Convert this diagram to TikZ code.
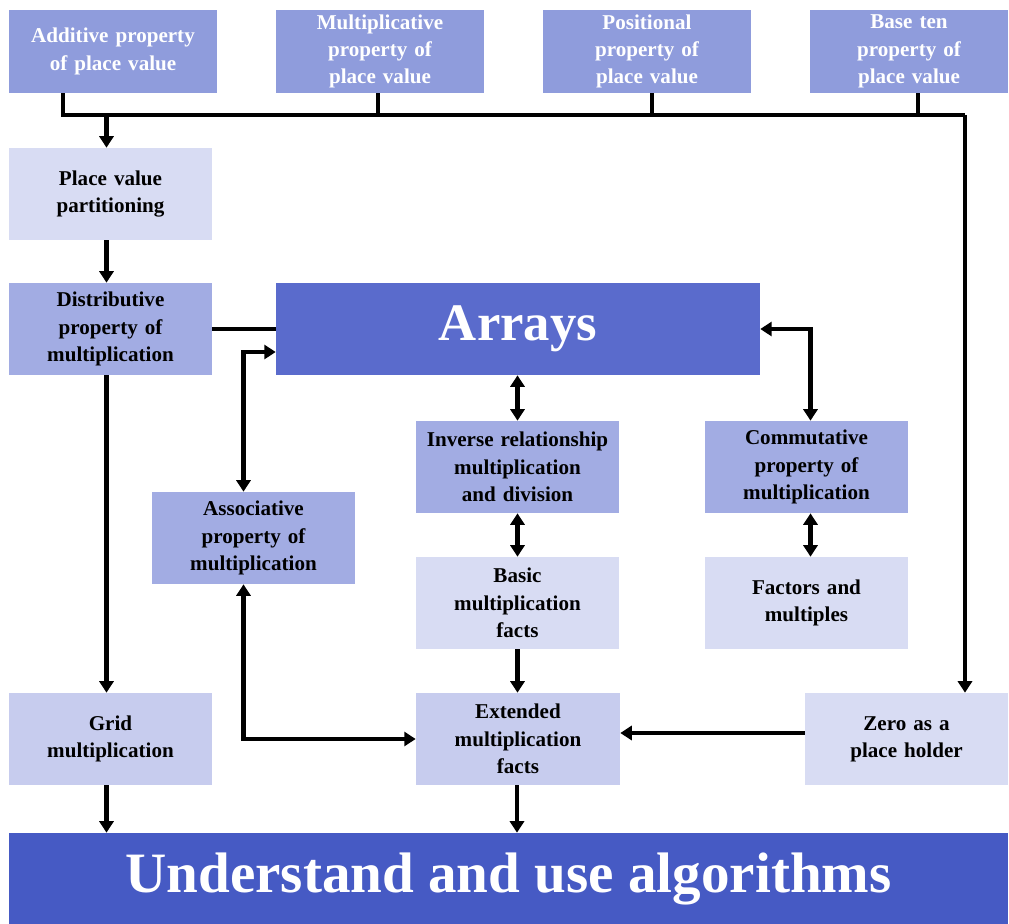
\documentclass[tikz,border=0pt]{standalone}
\usepackage{fontspec}
\setmainfont{Liberation Serif}
\usetikzlibrary{arrows.meta,calc}

\definecolor{topblue}{HTML}{8F9CDC}
\definecolor{midblue}{HTML}{A2ACE3}
\definecolor{paleblue}{HTML}{C7CCEE}
\definecolor{lightblue}{HTML}{D8DCF3}
\definecolor{arrayblue}{HTML}{5A6BCC}
\definecolor{algblue}{HTML}{465AC4}

\begin{document}
\begin{tikzpicture}[x=0.02cm,y=-0.02cm,
    >={Triangle[length=6.5pt,width=8pt]},
    conn/.style={line width=2.3pt,draw=black},
    box/.style={rectangle,inner sep=0pt,align=center,font=\fontsize{12}{15.5}\selectfont\bfseries,
                minimum height=1.84cm,minimum width=4.06cm,text width=3.9cm},
    top box/.style={box,fill=topblue,text=white,minimum height=1.66cm,minimum width=4.16cm},
    mid box/.style={box,fill=midblue},
    pale box/.style={box,fill=paleblue},
    light box/.style={box,fill=lightblue},
    big box/.style={rectangle,inner sep=0pt,align=center,text=white,font=\bfseries}]
  \useasboundingbox (0,0) rectangle (1009,924);

  % top row
  \node[top box] (add) at (113,51.5) {Additive property\\of place value};
  \node[top box] (mul) at (380,51.5) {Multiplicative\\property of\\place value};
  \node[top box] (pos) at (647,51.5) {Positional\\property of\\place value};
  \node[top box,minimum width=3.96cm] (base) at (909,51.5) {Base ten\\property of\\place value};

  % middle
  \node[light box] (pvp) at (110.5,194) {Place value\\partitioning};
  \node[mid box] (dist) at (110.5,329) {Distributive\\property of\\multiplication};
  \node[big box,fill=arrayblue,minimum width=9.68cm,minimum height=1.84cm,
        font=\fontsize{30}{32}\selectfont\bfseries] (arrays) at (518,329) {Arrays};
  \node[mid box] (inv) at (517.5,467) {Inverse relationship\\multiplication\\and division};
  \node[mid box] (comm) at (806.5,467) {Commutative\\property of\\multiplication};
  \node[mid box] (assoc) at (253.5,538) {Associative\\property of\\multiplication};
  \node[light box] (basic) at (517.5,603) {Basic\\multiplication\\facts};
  \node[light box] (fact) at (806.5,603) {Factors and\\multiples};
  \node[pale box] (grid) at (110.5,739) {Grid\\multiplication};
  \node[pale box,minimum width=4.08cm] (ext) at (518,739) {Extended\\multiplication\\facts};
  \node[light box] (zero) at (906.5,739) {Zero as a\\place holder};

  % bottom
  \node[big box,fill=algblue,minimum width=19.98cm,minimum height=1.82cm,
        font=\fontsize{32.5}{35}\selectfont\bfseries] (alg) at (508.5,878.5) {Understand and use algorithms};

  % drop points of the bus
  \coordinate (busL) at (63,115);
  \coordinate (busR) at (965,115);
  \coordinate (mulD) at ($(mul.south)+(-2,0)$);
  \coordinate (posD) at ($(pos.south)+(5,0)$);
  \coordinate (baseD) at ($(base.south)+(9,0)$);
  \coordinate (pvpT) at ($(pvp.north)+(-4,0)$);
  \coordinate (pvpB) at ($(pvp.south)+(-4,0)$);
  \coordinate (distB) at ($(dist.south)+(-4,0)$);
  \coordinate (gridB) at ($(grid.south)+(-4,0)$);
  \coordinate (extB) at ($(ext.south)+(-1,0)$);
  \coordinate (assocT) at ($(assoc.north)+(-10,0)$);
  \coordinate (assocB) at ($(assoc.south)+(-10,0)$);
  \coordinate (arrW) at ($(arrays.west)+(0,23)$);
  \coordinate (commT) at ($(comm.north)+(4,0)$);
  \coordinate (commB) at ($(comm.south)+(4,0)$);
  \coordinate (zeroW) at ($(zero.west)+(0,-6)$);

  % place value bus
  \draw[conn] (add.south -| busL) -- (busL) -- (busR);
  \draw[conn] (mulD) -- (mulD |- busL);
  \draw[conn] (posD) -- (posD |- busL);
  \draw[conn] (baseD) -- (baseD |- busL);
  \draw[conn,->] (busR) -- (zero.north -| busR);
  \draw[conn,->] (pvpT |- busL) -- (pvpT);

  % links
  \draw[conn,->] (pvpB) -- (pvpB |- dist.north);
  \draw[conn] (dist.east) -- (arrays.west);
  \draw[conn,->] (distB) -- (distB |- grid.north);
  \draw[conn,<->] (assocT) |- (arrW);
  \draw[conn,<->] (arrays.south -| inv) -- (inv.north);
  \draw[conn,<->] (inv.south) -- (basic.north);
  \draw[conn,->] (basic.south) -- (basic.south |- ext.north);
  \draw[conn,<->] (arrays.east) -| (commT);
  \draw[conn,<->] (commB) -- (commB |- fact.north);
  \draw[conn,<->] (assocB) |- (ext.west);
  \draw[conn,->] (zeroW) -- (zeroW -| ext.east);
  \draw[conn,->] (gridB) -- (gridB |- alg.north);
  \draw[conn,->] (extB) -- (extB |- alg.north);
\end{tikzpicture}
\end{document}
